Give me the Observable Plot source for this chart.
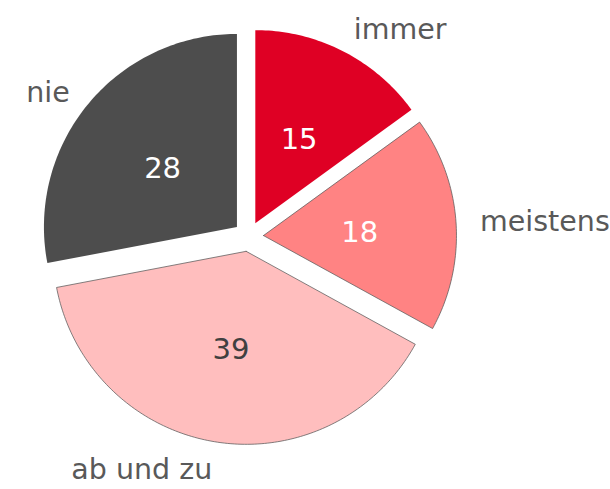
<!DOCTYPE html>
<html>
<head>
<meta charset="utf-8">
<script src="https://cdn.jsdelivr.net/npm/d3@7"></script>
<script src="https://cdn.jsdelivr.net/npm/@observablehq/plot@0.6"></script>
<style>
  html, body { margin: 0; padding: 0; background: #fff; }
  #chart { width: 610px; height: 489px; }
</style>
</head>
<body>
<div id="chart"></div>
<script>
// ---- data ----
const categories = ["immer", "meistens", "ab und zu", "nie"];
const values = [15, 18, 39, 28];

// ---- styles ----
const fills = ["#df0024", "#ff8383", "#ffbebe", "#4d4d4d"];
const strokes = ["none", "#595959", "#595959", "none"];
const valueColors = ["#ffffff", "#ffffff", "#404040", "#ffffff"];

// ---- layout ----
const W = 610, H = 489;
const cx = 248, cy = 236, R = 193;   // pixels
const explode = 15 / R;              // in radius units
const labelR = 217 / R;              // measured from each slice's apex
const valueR = 0.5;
const fontFamily = "'DejaVu Sans', Verdana, sans-serif";

const total = d3.sum(values);
const pie = [];
let acc = 0;
categories.forEach((c, i) => {
  const a0 = acc / total * 2 * Math.PI;
  acc += values[i];
  const a1 = acc / total * 2 * Math.PI;
  const mid = (a0 + a1) / 2;
  const dx = Math.sin(mid), dy = -Math.cos(mid);
  const ox = dx * explode, oy = dy * explode;
  pie.push({cat: c, value: values[i], i, a0, a1, mid, dx, dy, ox, oy});
});

// outline points of each slice (apex -> arc -> apex), unit-radius coordinates
const outline = [];
for (const s of pie) {
  outline.push({cat: s.cat, x: s.ox, y: s.oy, fill: fills[s.i], stroke: strokes[s.i]});
  const n = Math.max(8, Math.ceil((s.a1 - s.a0) / (Math.PI / 180)));
  for (let k = 0; k <= n; k++) {
    const a = s.a0 + (s.a1 - s.a0) * k / n;
    outline.push({cat: s.cat, x: s.ox + Math.sin(a), y: s.oy - Math.cos(a), fill: fills[s.i], stroke: strokes[s.i]});
  }
  outline.push({cat: s.cat, x: s.ox, y: s.oy, fill: fills[s.i], stroke: strokes[s.i]});
}

const valueLabels = pie.map(s => ({
  x: s.ox + s.dx * valueR, y: s.oy + s.dy * valueR, text: String(s.value), color: valueColors[s.i]
}));
const catLabels = pie.map(s => ({
  x: s.ox + s.dx * labelR, y: s.oy + s.dy * labelR, text: s.cat, right: s.dx >= 0
}));

const chart = Plot.plot({
  width: W,
  height: H,
  margin: 0,
  x: {domain: [-cx / R, (W - cx) / R], range: [0, W], axis: null},
  y: {domain: [-cy / R, (H - cy) / R], range: [0, H], axis: null},
  color: {type: "identity"},
  style: {background: "#fff", fontFamily},
  marks: [
    Plot.line(outline, {
      x: "x", y: "y", z: "cat",
      fill: "fill", stroke: "stroke", strokeWidth: 0.75, strokeLinejoin: "miter"
    }),
    Plot.text(valueLabels, {
      x: "x", y: "y", text: "text", fill: "color", fontSize: 29, fontFamily, dy: 3
    }),
    Plot.text(catLabels.filter(d => d.right), {
      x: "x", y: "y", text: "text", fill: "#595959", fontSize: 28.5, fontFamily, textAnchor: "start"
    }),
    Plot.text(catLabels.filter(d => !d.right), {
      x: "x", y: "y", text: "text", fill: "#595959", fontSize: 28.5, fontFamily, textAnchor: "end", dy: 4
    })
  ]
});
document.getElementById("chart").appendChild(chart);
</script>
</body>
</html>
